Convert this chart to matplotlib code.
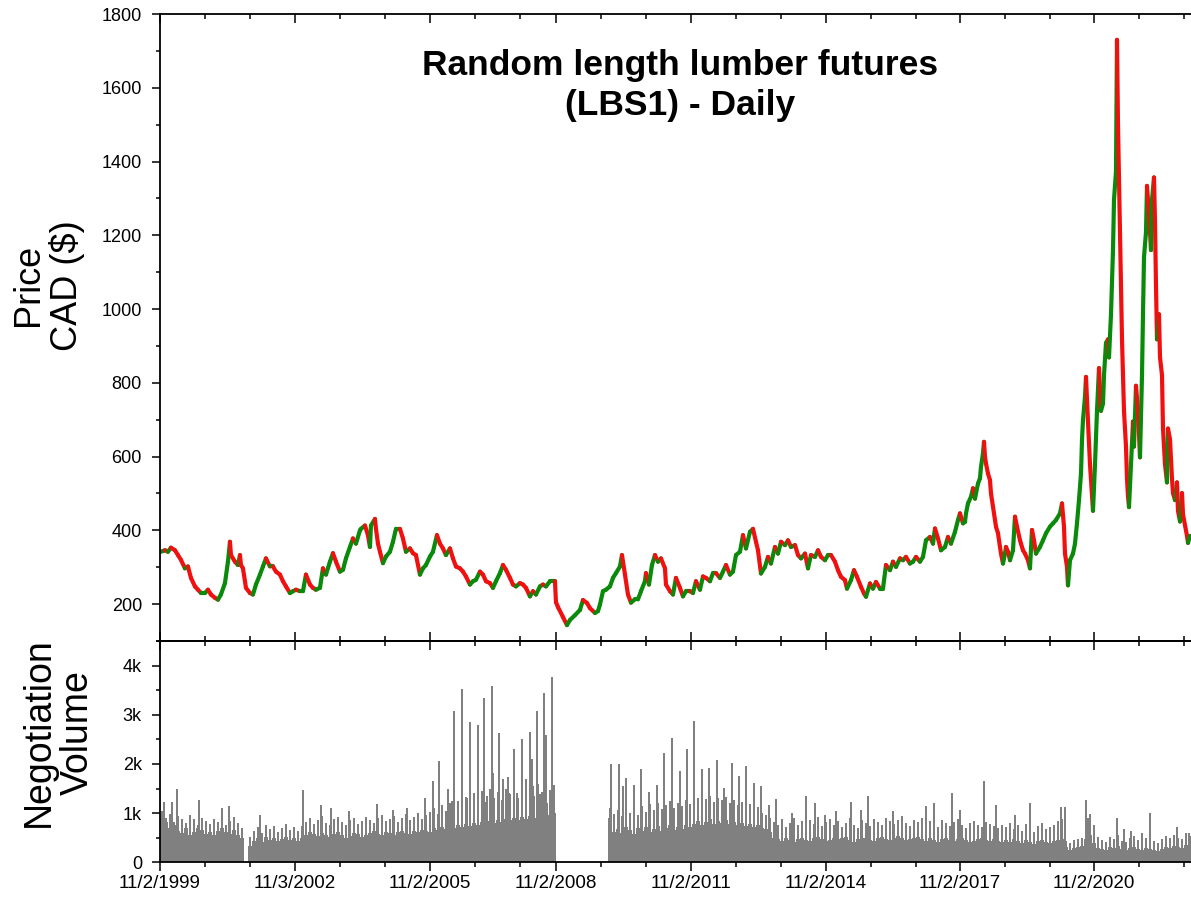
import numpy as np
import matplotlib
matplotlib.use("Agg")
import matplotlib.pyplot as plt
from matplotlib.collections import LineCollection
from matplotlib.ticker import FixedLocator, FixedFormatter, MultipleLocator

plt.rcParams['font.family'] = ['Liberation Sans', 'DejaVu Sans']

# bar index along the time axis and closing price (CAD)
price_week = [
    1, 5, 8, 11, 15, 18, 21, 25, 28, 31,
    35, 38, 41, 45, 48, 51, 55, 58, 61, 65,
    68, 70, 71, 75, 78, 80, 81, 83, 85, 86,
    90, 93, 96, 100, 103, 106, 110, 113, 116, 120,
    123, 126, 130, 133, 136, 140, 143, 146, 150, 153,
    156, 160, 163, 166, 170, 173, 176, 180, 183, 186,
    190, 193, 196, 200, 201, 205, 208, 210, 211, 215,
    216, 218, 220, 223, 226, 230, 233, 236, 240, 243,
    246, 250, 253, 256, 260, 263, 266, 270, 273, 277,
    280, 283, 286, 290, 293, 296, 300, 303, 306, 310,
    313, 316, 320, 323, 326, 330, 333, 336, 340, 343,
    346, 350, 353, 356, 360, 363, 366, 370, 373, 376,
    380, 383, 386, 390, 393, 395, 396, 398, 403, 407,
    410, 415, 420, 423, 427, 430, 435, 438, 440, 443,
    446, 450, 453, 456, 460, 462, 465, 468, 471, 475,
    478, 481, 485, 486, 489, 492, 495, 498, 501, 505,
    506, 510, 513, 516, 520, 523, 526, 530, 533, 536,
    540, 543, 546, 550, 553, 556, 560, 563, 566, 570,
    573, 576, 580, 583, 586, 590, 593, 596, 598, 601,
    605, 608, 611, 615, 618, 621, 625, 628, 631, 635,
    638, 641, 645, 648, 651, 655, 658, 661, 665, 668,
    671, 675, 678, 681, 685, 687, 691, 694, 697, 701,
    704, 706, 710, 713, 716, 720, 723, 726, 730, 733,
    736, 740, 743, 746, 750, 753, 756, 760, 763, 766,
    770, 773, 775, 778, 781, 785, 788, 791, 795, 798,
    800, 803, 805, 806, 808, 811, 813, 815, 816, 818,
    820, 821, 823, 824, 825, 826, 828, 830, 831, 833,
    835, 836, 838, 840, 841, 843, 845, 846, 848, 850,
    853, 855, 857, 860, 861, 863, 865, 868, 870, 872,
    874, 876, 880, 883, 886, 890, 893, 896, 900, 902,
    904, 905, 907, 908, 910, 913, 915, 917, 919, 921,
    922, 923, 925, 926, 928, 930, 933, 935, 937, 939,
    941, 943, 944, 946, 948, 949, 951, 953, 954, 956,
    957, 958, 959, 960, 961, 962, 963, 964, 966, 967,
    968, 969, 971, 973, 974, 976, 978, 980, 982, 983,
    984, 986, 987, 989, 991, 992, 994, 995, 996, 997,
    999, 1000, 1002, 1003, 1005, 1007, 1008, 1010, 1012, 1013,
    1015, 1017, 1018, 1020, 1022, 1023, 1025, 1027, 1028, 1030,
]
price_close = [
    342, 346, 342, 353, 346, 333, 320, 297, 302, 271,
    248, 239, 230, 230, 239, 226, 217, 212, 226, 257,
    315, 369, 333, 315, 306, 333, 306, 297, 262, 244,
    230, 226, 253, 280, 302, 324, 302, 302, 288, 280,
    262, 248, 230, 235, 239, 235, 235, 280, 253, 244,
    239, 244, 297, 280, 315, 338, 315, 288, 293, 324,
    355, 378, 364, 400, 404, 413, 387, 355, 413, 431,
    404, 364, 342, 311, 329, 342, 369, 404, 404, 378,
    342, 351, 338, 333, 280, 297, 306, 329, 342, 387,
    364, 351, 333, 351, 324, 302, 297, 288, 275, 253,
    262, 266, 288, 280, 262, 257, 244, 262, 284, 306,
    293, 271, 253, 248, 257, 253, 244, 221, 235, 226,
    248, 253, 248, 262, 262, 262, 205, 192, 165, 143,
    157, 170, 184, 211, 203, 189, 176, 181, 199, 235,
    239, 248, 271, 284, 302, 333, 280, 226, 204, 213,
    213, 235, 262, 284, 253, 306, 333, 315, 324, 297,
    253, 235, 226, 271, 244, 221, 235, 235, 230, 262,
    239, 275, 271, 262, 284, 284, 271, 288, 306, 280,
    288, 333, 342, 387, 351, 396, 404, 369, 346, 283,
    301, 328, 310, 355, 337, 369, 360, 373, 355, 360,
    333, 324, 337, 297, 333, 328, 346, 328, 319, 333,
    333, 315, 292, 274, 265, 242, 265, 292, 274, 247,
    229, 220, 256, 242, 260, 242, 242, 306, 292, 315,
    301, 324, 319, 328, 310, 315, 328, 315, 328, 373,
    382, 364, 405, 378, 346, 355, 382, 364, 396, 428,
    446, 419, 423, 446, 473, 491, 514, 486, 500, 527,
    541, 572, 609, 640, 600, 581, 554, 536, 500, 464,
    428, 410, 392, 355, 337, 310, 337, 355, 342, 319,
    346, 437, 410, 373, 364, 346, 337, 319, 297, 401,
    373, 337, 355, 373, 392, 410, 419, 428, 446, 473,
    410, 337, 301, 251, 319, 337, 364, 419, 482, 554,
    645, 699, 762, 816, 695, 579, 453, 579, 724, 840,
    724, 744, 821, 908, 918, 869, 986, 1160, 1296, 1373,
    1730, 1499, 1354, 1208, 1063, 918, 821, 724, 627, 540,
    492, 463, 579, 695, 627, 792, 724, 598, 821, 986,
    1141, 1208, 1334, 1257, 1160, 1296, 1357, 1237, 1063, 918,
    986, 869, 821, 676, 579, 530, 676, 647, 540, 501,
    482, 530, 453, 424, 501, 443, 414, 385, 366, 385,
]

# volume per 4-bar block: level filled by nearly every session (0 = no data)
vol_step = 4
vol_body = [
    950, 820, 700, 760, 640, 600, 690, 560, 620, 700, 650, 580, 610, 560, 640,
    700, 620, 580, 650, 560, 480,
    0,
    330, 420, 480, 400, 520, 450, 500, 430, 470, 520, 440, 480, 430,
    500, 560, 620, 580, 540, 600, 560, 520, 580, 620, 560, 500, 540, 600, 580,
    520, 560, 600, 640, 580, 560, 620, 600, 560, 620, 640, 600, 580, 640, 620,
    660, 640, 620,
    700, 660, 720, 680, 740, 700, 760,
    720, 780, 740, 800, 760, 820, 780, 840, 800, 860, 820, 880, 860, 900, 850,
    920, 880, 940, 900, 960, 920, 980, 950, 1000,
    0, 0, 0, 0, 0, 0, 0, 0, 0, 0, 0, 0, 0,
    900, 620, 680, 600, 720, 650, 580, 700, 640, 720, 620, 680, 740, 640, 700,
    760, 660, 720, 680, 760, 720,
    780, 840, 760, 820, 880, 780, 840, 800, 860, 780, 820, 760, 800, 740, 780,
    720, 760, 700, 680, 620,
    500, 460, 420, 480, 440, 400, 460, 500, 440, 420, 480, 520, 460, 420, 440,
    500, 460, 480, 520, 440, 400, 460, 500, 480, 440, 420, 480, 520, 460, 440,
    500, 540, 480, 440, 460, 500, 520, 460, 420, 480, 440, 400, 460, 500, 440,
    420, 460, 480, 440, 400, 420, 460, 500, 440, 420, 460, 420, 400,
    440, 400, 460, 420, 380, 440, 400, 360, 420, 440, 400, 380, 420, 440, 460,
    300, 240, 280, 300, 320,
    460, 560, 380, 280,
    260, 240, 300, 280, 320, 260, 240, 280, 300, 260, 240, 280, 260, 240, 220,
    260, 300, 280, 320, 300, 280, 340, 320,
]

# highest ordinary session inside each 4-bar block
vol_high = [
    1050, 900, 980, 820, 940, 870, 800, 950, 880, 760, 900, 840, 780, 880, 820,
    900, 760, 840, 920, 800, 700,
    0,
    520, 640, 720, 600, 760, 680, 740, 620, 700, 780, 660, 720, 640,
    740, 820, 900, 780, 860, 940, 800, 760, 880, 920, 820, 760, 860, 900, 780,
    840, 920, 860, 800, 900, 960, 840, 880, 940, 820, 900, 980, 860, 920, 1000,
    880, 960, 1020,
    1100, 980, 1160, 1040, 1200, 1100, 1240,
    1200, 1320, 1160, 1400, 1280, 1360, 1220, 1480, 1300, 1420, 1260, 1500,
    1380, 1440, 1300, 1560, 1400, 1480, 1340, 1600, 1420, 1520, 1460, 1580,
    0, 0, 0, 0, 0, 0, 0, 0, 0, 0, 0, 0, 0,
    1100, 980, 1060, 940, 1120, 1000, 1080, 960, 1140, 1020, 1180, 1060, 1200,
    1080, 1160, 1240, 1100, 1200, 1140, 1260, 1180,
    1240, 1300, 1180, 1280, 1340, 1220, 1300, 1260, 1320, 1200, 1260, 1160,
    1220, 1100, 1180, 1060, 1120, 1000, 960, 900,
    820, 760, 880, 720, 800, 900, 760, 840, 700, 860,
    780, 920, 740, 820, 880, 760, 840, 720, 800, 900,
    760, 700, 860, 800, 740, 880, 820, 760, 900, 840,
    780, 860, 940, 800, 740, 860, 820, 900, 760, 840,
    780, 720, 860, 800, 740, 820, 880, 760, 700, 800,
    840, 760, 720, 820, 780, 740, 700, 760,
    720, 800, 680, 760, 640, 780, 700, 620, 740, 800, 680, 720, 760, 840, 880,
    420, 380, 440, 460, 500,
    900, 980, 760, 520,
    440, 400, 520, 460, 560, 420, 400, 480, 540, 440, 400, 500, 460, 420, 380,
    460, 540, 480, 560, 500, 460, 600, 540,
]

# single sessions with unusually heavy volume
spike_week = [
    4, 12, 17, 39, 62, 69, 100, 143, 161, 171,
    189, 217, 233, 247, 265, 273, 279, 288, 294, 302,
    310, 318, 324, 332, 339, 348, 354, 362, 370, 372,
    377, 384, 386, 392, 394, 292, 298, 307, 322, 327,
    333, 343, 349, 357, 366, 373, 380, 387, 390,
    451, 459, 463, 466, 474, 481, 489, 497, 504, 512,
    520, 527, 534, 542, 549, 557, 564, 572, 579, 586,
    594, 601, 609, 616, 632, 646, 655, 665, 676, 691,
    701, 708, 733, 766, 774, 792, 800, 824, 836, 855,
    870, 901, 905, 926, 928, 957, 964, 971, 982, 990,
    1017, 1029,
]
spike_volume = [
    1230, 1230, 1500, 1260, 1110, 1140, 950, 1470, 1160, 1110,
    1040, 1180, 1070, 1110, 1310, 1650, 2070, 1500, 3080, 3540,
    2860, 2790, 3350, 3590, 2640, 1730, 2300, 2500, 2660, 2110,
    3090, 3450, 2600, 3780, 1310, 1240, 1210, 1310, 1450, 1350,
    1820, 1690, 1410, 1410, 1690, 1550, 1380, 1210, 1280,
    2010, 2010, 1550, 1720, 1580, 1890, 1430, 1580, 2230, 2540,
    1860, 2310, 2880, 1890, 1920, 2080, 1520, 2030, 1750, 1960,
    1620, 1550, 1160, 1280, 990, 1350, 1200, 950, 1040, 1230,
    1070, 1350, 1050, 1150, 1210, 1400, 1060, 1650, 1160, 950,
    1210, 1130, 1130, 1260, 890, 890, 670, 630, 600, 1000,
    710, 600,
]

date_ticks = [0, 135, 270, 396, 531, 666, 800, 934]
date_labels = ['11/2/1999', '11/3/2002', '11/2/2005', '11/2/2008',
               '11/2/2011', '11/2/2014', '11/2/2017', '11/2/2020']

UP = '#0a8a0a'
DOWN = '#f01010'
GREY = '#808080'
XMAX = 1031

minor_ticks = []
for i, m in enumerate(date_ticks):
    nxt = date_ticks[i + 1] if i + 1 < len(date_ticks) else XMAX
    minor_ticks += [t for t in (m + 45, m + 90) if t < nxt]

fig = plt.figure(figsize=(11.91, 9.0), dpi=100)
ax_p = fig.add_axes([0.1343, 0.2878, 0.8657, 0.6966])
ax_v = fig.add_axes([0.1343, 0.0422, 0.8657, 0.2456])

# price: each step coloured by direction, like a run of candles
w = np.asarray(price_week, dtype=float)
c = np.asarray(price_close, dtype=float)
pts = np.column_stack([w, c])
segs = np.stack([pts[:-1], pts[1:]], axis=1)
cols = np.where(np.diff(c) >= 0, UP, DOWN)
lc = LineCollection(segs, colors=cols, linewidths=3.0, capstyle='round')
ax_p.add_collection(lc)

ax_p.set_xlim(0, XMAX)
ax_p.set_ylim(100, 1800)
ax_p.set_yticks([200, 400, 600, 800, 1000, 1200, 1400, 1600, 1800])
ax_p.yaxis.set_minor_locator(MultipleLocator(100))
ax_p.xaxis.set_major_locator(FixedLocator(date_ticks))
ax_p.xaxis.set_minor_locator(FixedLocator(minor_ticks))
ax_p.tick_params(axis='x', which='both', direction='in', top=True,
                 bottom=True, labelbottom=False)
ax_p.tick_params(axis='x', which='major', length=6.5, width=1.1)
ax_p.tick_params(axis='x', which='minor', length=3.3, width=1.1)
ax_p.tick_params(axis='y', which='major', direction='out', length=6, width=1.1,
                 labelsize=13, pad=7)
ax_p.tick_params(axis='y', which='minor', direction='out', length=3, width=1.1)
ax_p.spines['right'].set_visible(False)
for s in ('left', 'top', 'bottom'):
    ax_p.spines[s].set_linewidth(1.3)

# volume: filled level, the block maxima as thin bars, then the heavy sessions
vol_x = np.arange(len(vol_body)) * vol_step
ax_v.bar(vol_x, vol_body, width=vol_step, align='edge', color=GREY, linewidth=0)
ax_v.bar(vol_x + 2, vol_high, width=1.4, align='center', color=GREY,
         linewidth=0)
ax_v.bar(spike_week, spike_volume, width=1.3, align='center', color=GREY,
         linewidth=0)
ax_v.set_xlim(0, XMAX)
ax_v.set_ylim(0, 4510)
ax_v.yaxis.set_major_locator(FixedLocator([0, 1000, 2000, 3000, 4000]))
ax_v.yaxis.set_major_formatter(FixedFormatter(['0', '1k', '2k', '3k', '4k']))
ax_v.yaxis.set_minor_locator(MultipleLocator(500))
ax_v.xaxis.set_major_locator(FixedLocator(date_ticks))
ax_v.xaxis.set_major_formatter(FixedFormatter(date_labels))
ax_v.xaxis.set_minor_locator(FixedLocator(minor_ticks))
ax_v.tick_params(axis='x', which='major', direction='out', length=6.5, width=1.1,
                 labelsize=13.5, pad=3)
ax_v.tick_params(axis='x', which='minor', direction='out', length=3.3, width=1.1)
ax_v.tick_params(axis='y', which='major', direction='out', length=6, width=1.1,
                 labelsize=13, pad=7)
ax_v.tick_params(axis='y', which='minor', direction='out', length=3, width=1.1)
ax_v.spines['right'].set_visible(False)
for s in ('left', 'top', 'bottom'):
    ax_v.spines[s].set_linewidth(1.3)

top_v = ax_v.secondary_xaxis('top')
top_v.xaxis.set_major_locator(FixedLocator(date_ticks))
top_v.xaxis.set_minor_locator(FixedLocator(minor_ticks))
top_v.tick_params(axis='x', which='both', direction='in', labeltop=False,
                  width=1.1)
top_v.tick_params(axis='x', which='major', length=6.5)
top_v.tick_params(axis='x', which='minor', length=3.3)
top_v.spines['top'].set_linewidth(1.3)

fig.text(0.571, 0.905, 'Random length lumber futures\n(LBS1) - Daily',
         ha='center', va='center', fontsize=25.5, fontweight='bold',
         linespacing=1.3)
fig.text(0.040, 0.683, 'Price\nCAD ($)', rotation=90, ha='center',
         va='center', fontsize=26, linespacing=1.1)
fig.text(0.049, 0.186, 'Negotiation\nVolume', rotation=90, ha='center',
         va='center', fontsize=27, linespacing=1.12)

fig.savefig('out.png', dpi=100)
